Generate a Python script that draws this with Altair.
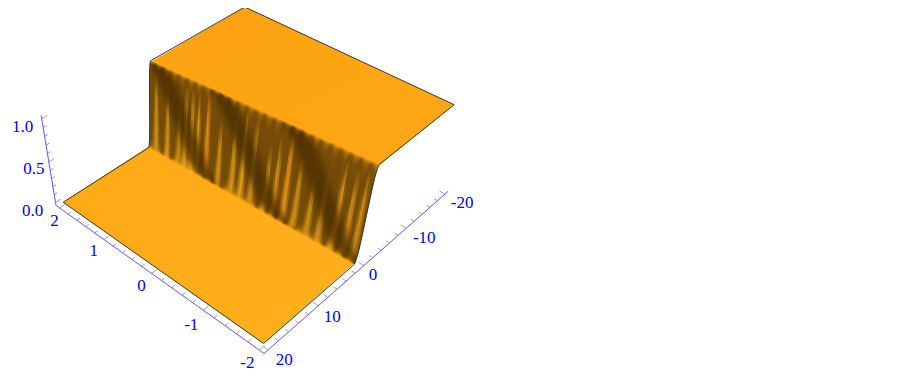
import numpy as np
import pandas as pd
import altair as alt

# Step profile across the riser: fraction down the riser -> height
T_PROFILE = [0.0, 0.07, 0.2, 0.35, 0.5, 0.65, 0.8, 0.93, 1.0]
Z_PROFILE = [1.0, 0.97, 0.88, 0.70, 0.50, 0.30, 0.12, 0.03, 0.0]
# u where the step begins and ends, on the v=2 side and the v=-2 side
U_TOP = [0.9, -2.4]
U_BOT = [2.6, 1.2]
# light ridges on the riser: v position, top of ridge (fraction down riser), strength
RIDGE_V = [1.86, 1.62, 1.38, 1.25, 1.12, 1.0, 0.82, 0.57, 0.30, 0.12, -0.07, -0.34, -0.5, -0.68, -0.88, -1.12, -1.32, -1.57, -1.76, -1.92]
RIDGE_TOP = [0.12, 0.2, 0.3, 0.12, 0.1, 0.15, 0.05, 0.3, 0.2, 0.1, 0.12, 0.3, 0.2, 0.05, 0.25, 0.35, 0.3, 0.12, 0.15, 0.1]
RIDGE_AMP = [0.55, 0.55, 0.5, 0.62, 0.62, 0.55, 0.55, 0.55, 0.58, 0.62, 0.55, 0.55, 0.55, 0.58, 0.55, 0.55, 0.55, 0.58, 0.55, 0.5]
RIDGE_ORANGE = [0, 0, 0, 0, 0, 0, 0.6, 0, 0, 0, 0, 0, 0, 0.6, 0, 0, 0, 0, 0, 0]
# dark diagonal bands: v at top of riser, v at bottom of riser
BAND_V_TOP = [1.92, 0.72, -0.60]
BAND_V_BOTTOM = [0.72, -0.68, -1.95]
# colour ramp of the riser, dark to plate colour
RAMP_AT = [0.0, 0.3, 0.6, 0.85, 1.0]
RAMP_RGB = [(72, 44, 2), (118, 76, 8), (172, 118, 18), (218, 156, 28), (250, 168, 20)]
# axes
V_TICKS = [2, 1, 0, -1, -2]
U_TICKS = [20, 10, 0, -10, -20]
Z_TICKS = [0.0, 0.5, 1.0]

# camera
anchors = [
    ((20, 2, 0), (63, 202)), ((20, -2, 0), (264, 344)),
    ((-20, 2, 1), (245, 7)), ((-20, -2, 1), (454, 104)),
    ((20.8, 2.08, -0.037), (56, 205)), ((20.8, -2.08, -0.037), (264, 353)),
    ((-20.8, -2.08, -0.037), (448, 192)), ((20.8, 2.08, 1.037), (41, 116)),
]
A, b = [], []
for (u, v, z), (x, y) in anchors:
    A.append([u, v, z, 1, 0, 0, 0, 0, -x * u, -x * v, -x * z]); b.append(x)
    A.append([0, 0, 0, 0, u, v, z, 1, -y * u, -y * v, -y * z]); b.append(y)
h = np.linalg.lstsq(np.array(A, float), np.array(b, float), rcond=None)[0]
Pm = np.append(h, 1.0).reshape(3, 4)


def P(u, v, z):
    q = Pm @ np.array([u, v, z, 1.0])
    return float(q[0] / q[2]), float(q[1] / q[2])


def rp(v, t):
    w = (2 - v) / 4
    ut = U_TOP[0] + (U_TOP[1] - U_TOP[0]) * w
    ub = U_BOT[0] + (U_BOT[1] - U_BOT[0]) * w
    return P(ut + (ub - ut) * t, v, float(np.interp(t, T_PROFILE, Z_PROFILE)))


count = [0]


def poly(points, fill, table):
    count[0] += 1
    ys = sorted({round(p[1], 2) for p in points})
    n = len(points)
    for y in ys:
        xs = []
        for i in range(n):
            (x0, y0), (x1, y1) = points[i], points[(i + 1) % n]
            y0r, y1r = round(y0, 2), round(y1, 2)
            if min(y0r, y1r) <= y <= max(y0r, y1r):
                if y0r == y1r:
                    xs += [x0, x1]
                else:
                    xs.append(x0 + (x1 - x0) * (y - y0r) / (y1r - y0r))
        table.append(dict(id=count[0], y=y, xa=round(min(xs), 2), xb=round(max(xs), 2), fill=fill))


def shade(v, t):
    bright = 0.3
    orange = 0.0
    for rv, rt, ra, ro in zip(RIDGE_V, RIDGE_TOP, RIDGE_AMP, RIDGE_ORANGE):
        if t > rt:
            f = (t - rt) / (1 - rt)
            half = 0.02 + 0.085 * f
            k = max(0.0, 1 - abs(v - rv) / half)
            bright += ra * k * min(1.0, f * 3)
            orange = max(orange, ro * k)
    dark = 0.0
    for vt, vb in zip(BAND_V_TOP, BAND_V_BOTTOM):
        d = abs(v - (vt + (vb - vt) * t))
        dark = max(dark, float(np.exp(-((d / 0.24) ** 3))))
    bright *= 1 - 0.72 * dark
    # teeth along the rims
    phase = (v * 6.3) % 1.0
    tooth = 1 - abs(2 * phase - 1)
    rim_top = np.exp(-t / ((0.02 + 0.055 * tooth) * (1 - 0.45 * dark)))
    phase2 = (v * 5.7 + 0.3) % 1.0
    tooth2 = 1 - abs(2 * phase2 - 1)
    rim_bot = np.exp(-(1 - t) / ((0.012 + 0.055 * tooth2) * (1 - 0.3 * dark)))
    rim = max(rim_top, rim_bot)
    rgb = [np.interp(bright, RAMP_AT, [c[i] for c in RAMP_RGB]) for i in range(3)]
    rgb[0] += 34 * orange * (1 - dark)
    rgb[1] -= 6 * orange * (1 - dark)
    plate = (251, 166, 20) if t < 0.5 else (255, 170, 22)
    rgb = [rgb[i] * (1 - rim) + plate[i] * rim for i in range(3)]
    return "#%02x%02x%02x" % tuple(int(min(255, max(0, c))) for c in rgb)


rows = []
NV, NT = 118, 34
for j in range(NT):
    t0, t1 = j / NT, (j + 1) / NT
    t1x = min(1.0, t1 + 0.5 / NT)
    for i in range(NV):
        v0, v1 = 2 - 4 * i / NV, 2 - 4 * (i + 1) / NV
        v1x = max(-2.0, v1 - 2.0 / NV)
        poly([rp(v0, t0), rp(v1x, t0), rp(v1x, t1x), rp(v0, t1x)], shade((v0 + v1) / 2, (t0 + t1) / 2), rows)
riser = pd.DataFrame(rows)

top_rows, bot_rows = [], []
poly([P(-20, 2, 1), P(-20, -2, 1), rp(-2, 0.03), rp(2, 0.03)], "#fda414", top_rows)
poly([P(20, 2, 0), P(20, -2, 0), rp(-2, 0.97), rp(2, 0.97)], "#ffac18", bot_rows)

# outline path
path = [P(20, 2, 0)]
path += [rp(2, t) for t in T_PROFILE[::-1]]
path += [P(-20, 2, 1), P(-20, -2, 1)]
path += [rp(-2, t) for t in T_PROFILE]
path += [P(20, -2, 0), P(20, 2, 0)]
outline = pd.DataFrame([dict(x=p[0], y=p[1], seq=i) for i, p in enumerate(path)])

# axes
Ub, Vb, Zl, Zh = 20.8, 2.08, -0.037, 1.037
ax = [(P(Ub, Vb, Zl), P(Ub, Vb, Zh)), (P(Ub, Vb, Zl), P(Ub, -Vb, Zl)), (P(Ub, -Vb, Zl), P(-Ub, -Vb, Zl))]
axes = pd.DataFrame([dict(x=a[0], y=a[1], x2=c[0], y2=c[1]) for a, c in ax])
ticks = []
for k in range(0, 21):
    vv = 2 - k * 0.2
    d = 1.0 if k % 5 == 0 else 0.6
    a, c = P(Ub, vv, Zl), P(Ub - d, vv, Zl)
    ticks.append(dict(x=a[0], y=a[1], x2=c[0], y2=c[1]))
    uu = 20 - k * 2
    d = 0.1 if k % 5 == 0 else 0.06
    a, c = P(uu, -Vb, Zl), P(uu, -Vb + d, Zl)
    ticks.append(dict(x=a[0], y=a[1], x2=c[0], y2=c[1]))
for k in range(0, 11):
    zz = k * 0.1
    d = 1.0 if k % 5 == 0 else 0.6
    a, c = P(Ub, Vb, zz), P(Ub - d, Vb, zz)
    ticks.append(dict(x=a[0], y=a[1], x2=c[0], y2=c[1]))
ticks = pd.DataFrame(ticks)

labels = []
for val, (dx, dy) in zip(V_TICKS, [(-5, 13), (-10, 12), (-10, 13), (-12, 15), (-12, 13)]):
    x, y = P(Ub, val, Zl)
    labels.append(dict(x=x + dx, y=y + dy, text=str(val)))
for val, (dx, dy) in zip(U_TICKS, [(16, 10), (14, 11), (9, 10), (18, 10), (17, 9)]):
    x, y = P(val, -Vb, Zl)
    labels.append(dict(x=x + dx, y=y + dy, text=str(val)))
for val, (dx, dy) in zip(Z_TICKS, [(-23, 8), (-15, 7), (-19, 8)]):
    x, y = P(Ub, Vb, val)
    labels.append(dict(x=x + dx, y=y + dy, text=f"{val:.1f}"))
labels = pd.DataFrame(labels)

xs = alt.Scale(domain=[8, 894], nice=False, zero=False)
ys = alt.Scale(domain=[373, 8], nice=False, zero=False)
X = alt.X("x:Q", scale=xs, axis=None)
Y = alt.Y("y:Q", scale=ys, axis=None)


def area_layer(df, **mark):
    return alt.Chart(df).mark_area(orient="horizontal", **mark).encode(
        x=alt.X("xa:Q", scale=xs, axis=None, stack=None),
        x2="xb:Q",
        y=alt.Y("y:Q", scale=ys, axis=None),
        detail="id:N",
    )


grad_top = alt.LinearGradient(gradient="linear", stops=[alt.GradientStop(color="#fca212", offset=0), alt.GradientStop(color="#ffa714", offset=1)], x1=0, x2=1, y1=0, y2=1)
grad_bot = alt.LinearGradient(gradient="linear", stops=[alt.GradientStop(color="#ffa815", offset=0), alt.GradientStop(color="#ffb11b", offset=1)], x1=0, x2=1, y1=0, y2=1)

alt.data_transformers.disable_max_rows()
plate_b = area_layer(pd.DataFrame(bot_rows), color=grad_bot)
plate_t = area_layer(pd.DataFrame(top_rows), color=grad_top)
riser_l = area_layer(riser).encode(color=alt.Color("fill:N", scale=None))
line = alt.Chart(outline).mark_line(color="#3a3530", strokeWidth=1, strokeJoin="round").encode(x=X, y=Y, order="seq:Q")
axis_l = alt.Chart(axes).mark_rule(color="#5a5af5", strokeWidth=1).encode(x=X, y=Y, x2="x2:Q", y2="y2:Q")
tick_l = alt.Chart(ticks).mark_rule(color="#a0a0a0", strokeWidth=1).encode(x=X, y=Y, x2="x2:Q", y2="y2:Q")
text_l = alt.Chart(labels).mark_text(font="Liberation Serif", fontSize=17, color="#0000ee", align="center", baseline="middle").encode(x=X, y=Y, text="text:N")

chart = alt.layer(plate_b, plate_t, riser_l, line, tick_l, axis_l, text_l).properties(
    width=886, height=365, padding=0, autosize=alt.AutoSizeParams(type="none")
).configure_view(stroke=None)

chart.save("out.html", embed_options={"renderer": "svg", "actions": False})
